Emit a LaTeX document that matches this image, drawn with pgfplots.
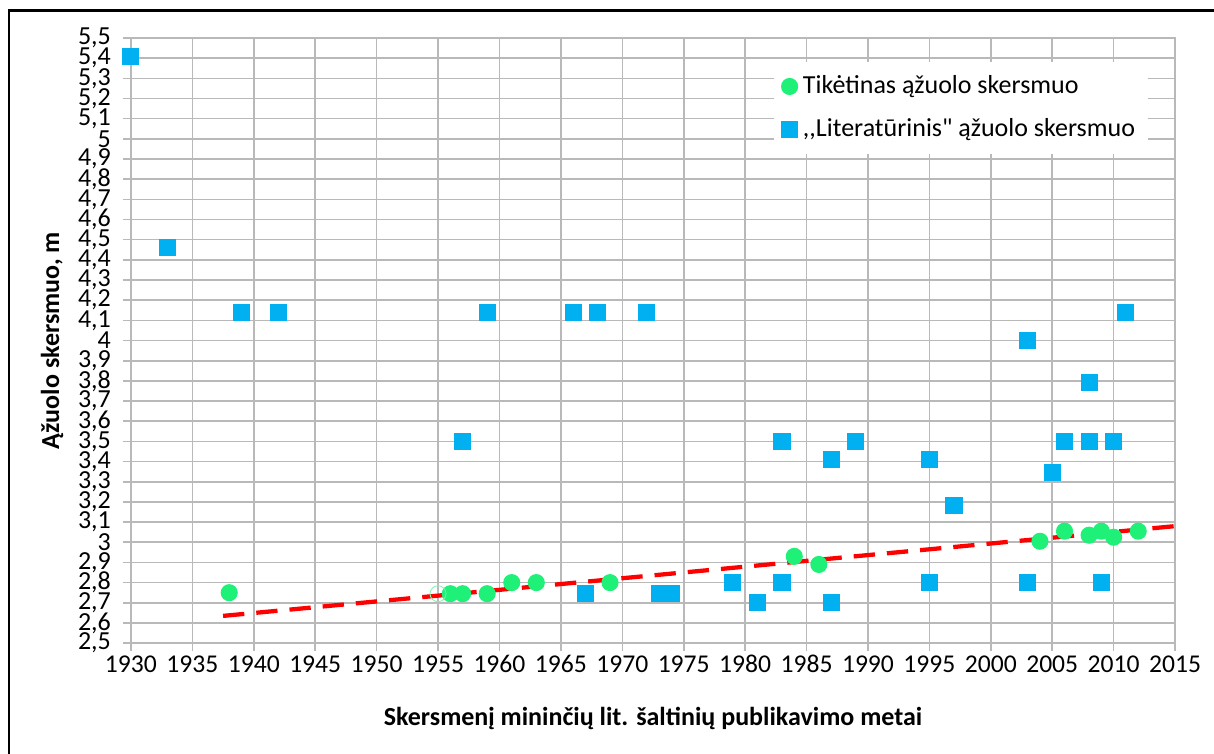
\documentclass[border=0pt]{standalone}
\usepackage{fontspec}
\setmainfont{Carlito}
\newfontfamily\plainfont{Carlito}
\usepackage{pgfplots}
\pgfplotsset{compat=1.18}
\definecolor{cgreen}{RGB}{30,240,120}
\definecolor{cblue}{RGB}{0,176,240}
\definecolor{cgrid}{RGB}{185,185,185}
\begin{document}
\begin{tikzpicture}
\begin{axis}[
  width=391.5pt, height=226.9pt, scale only axis,
  xmin=1930, xmax=2015, ymin=2.5, ymax=5.5,
  xtick={1930,1935,...,2015},
  ytick={2.5,2.6,...,5.55},
  grid=major, grid style={cgrid, line width=0.6pt},
  axis line style={cgrid, line width=0.6pt},
  tick style={cgrid, line width=0.6pt},
  tick align=outside, major tick length=3pt,
  tick pos=left,
  /pgf/number format/use comma,
  /pgf/number format/1000 sep={},
  /pgf/number format/assume math mode=true,
  ticklabel style={font=\fontsize{9.75}{10}\selectfont, text=black},
  xticklabel style={font=\fontsize{9.6}{10}\selectfont, anchor=center, yshift=-4.9pt},
  yticklabel style={anchor=east, xshift=-1pt, inner ysep=0pt},
  xlabel={\textbf{Skersmenį mininčių lit. šaltinių publikavimo metai}},
  ylabel={\textbf{Ąžuolo skersmuo, m}},
  label style={font=\fontsize{9.75}{11}\selectfont},
  xlabel style={at={(axis description cs:0.5,0)}, anchor=center, yshift=-28.1pt},
  ylabel style={at={(axis description cs:0,0.5)}, anchor=center, yshift=29.6pt},
  legend style={at={(0.615,0.961)}, anchor=north west, draw=none, fill=white,
    font=\fontsize{9.75}{11}\selectfont, row sep=4pt, inner sep=3pt},
  legend cell align=left,
]
\addplot[only marks, mark=*, mark size=3pt, color=cgreen, mark options={draw=cgreen, fill=cgreen}]
coordinates {
(1938,2.75) (1956,2.745) (1957,2.745) (1959,2.745) (1961,2.80) (1963,2.80)
(1969,2.80) (1984,2.93) (1986,2.89) (2004,3.005) (2006,3.055) (2008,3.035)
(2009,3.055) (2010,3.025) (2012,3.055)
};
\addlegendentry{Tikėtinas ąžuolo skersmuo}
\addplot[only marks, mark=square*, mark size=3pt, color=cblue, mark options={draw=cblue, fill=cblue}]
coordinates {
(1930,5.41) (1933,4.46) (1939,4.14) (1942,4.14) (1957,3.50) (1959,4.14)
(1966,4.14) (1968,4.14) (1972,4.14) (1967,2.745) (1973,2.745) (1974,2.745)
(1979,2.80) (1981,2.70) (1983,3.50) (1983,2.80) (1987,3.41) (1987,2.70)
(1989,3.50) (1995,3.41) (1995,2.80) (1997,3.18) (2003,4.00) (2003,2.80)
(2005,3.345) (2006,3.50) (2008,3.79) (2008,3.50) (2009,2.80) (2010,3.50)
(2011,4.14)
};
\addlegendentry{{\plainfont ,,Literatūrinis" ąžuolo skersmuo}}
\addplot[only marks, mark=o, mark size=3pt, mark options={draw=cgreen!60, line width=0.3pt}, forget plot]
coordinates {(1955,2.745)};
\addplot[red, line width=1.6pt, dash pattern=on 8pt off 4.5pt, forget plot]
coordinates {(1937.5,2.635) (2015,3.08)};
\coordinate (sw) at (rel axis cs:0,0);
\coordinate (ne) at (rel axis cs:1,1);
\end{axis}
\path[use as bounding box] ([xshift=-49.1pt, yshift=-41.25pt]sw) rectangle ([xshift=14.6pt, yshift=14.25pt]ne);
\coordinate (fl) at ([xshift=-45.7pt, yshift=-45pt]sw);
\coordinate (ft) at ([yshift=10.35pt]ne);
\coordinate (fr) at ([xshift=20pt, yshift=10.35pt]ne);
\draw[black, line width=1pt] (fl) -- (fl |- ft) -- (fr);
\end{tikzpicture}
\end{document}
